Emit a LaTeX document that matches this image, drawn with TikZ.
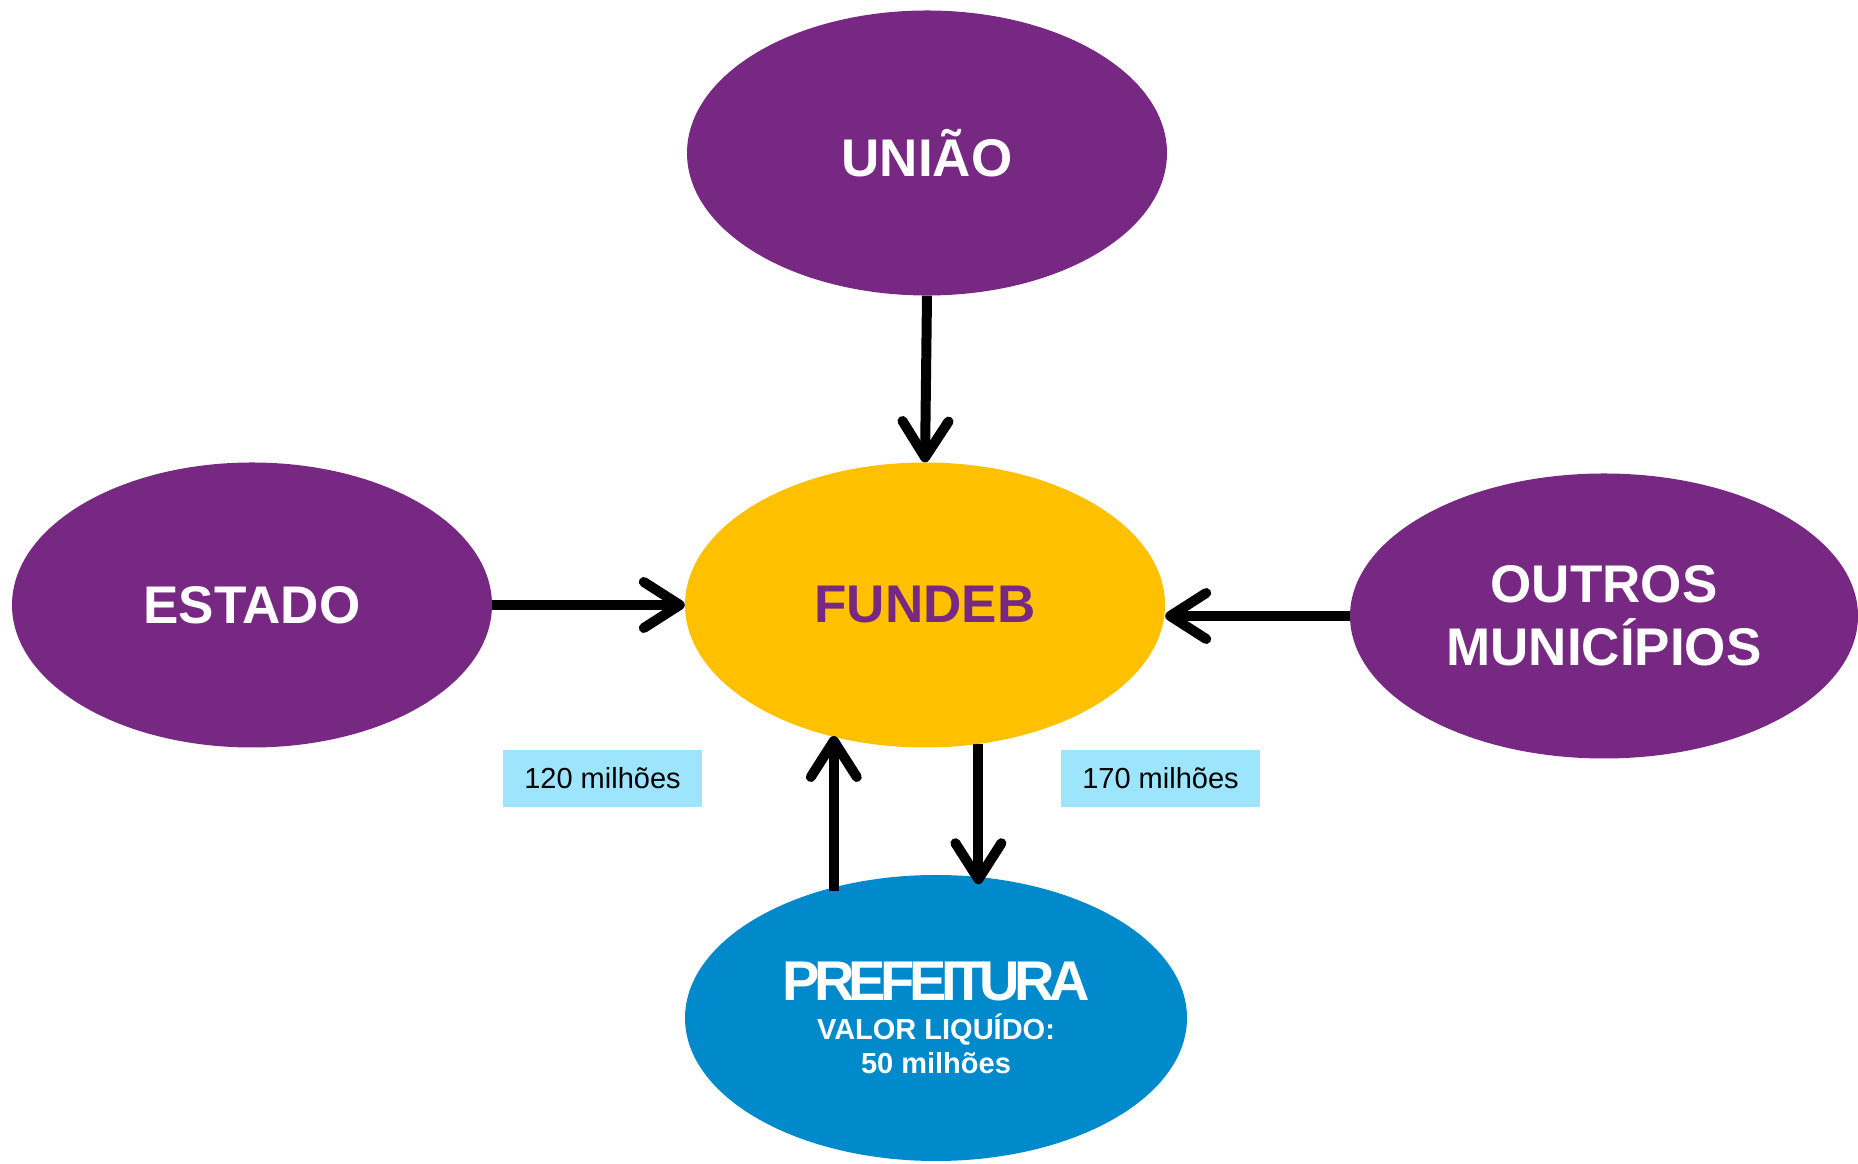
\documentclass[tikz,border=0pt]{standalone}
\usepackage{fontspec}
\setmainfont{Liberation Sans}
\newfontfamily\tightfont[LetterSpace=-10]{Liberation Sans}
\usetikzlibrary{shapes.geometric,arrows.meta,calc}
\definecolor{roxo}{HTML}{772882}
\definecolor{amarelo}{HTML}{FFC000}
\definecolor{azul}{HTML}{008ACC}
\definecolor{celeste}{HTML}{9CE5FD}
\begin{document}
\begin{tikzpicture}[x=1pt,y=1pt,
  blob/.style={ellipse, inner sep=0pt, minimum width=480pt, minimum height=285pt,
    font=\fontsize{53}{63}\selectfont\bfseries, align=center, text=white},
  label/.style={fill=celeste, inner sep=0pt, minimum width=199pt, minimum height=57pt,
    font=\fontsize{29}{34}\selectfont},
  flow/.style={line width=10pt, draw=black, -{Straight Barb[length=36pt,width=46pt,round]}}
]
\useasboundingbox (0,0) rectangle (1858,1164);
\node[blob, fill=roxo] (uniao) at (927,1011) {UNIÃO};
\node[blob, fill=roxo] (estado) at (252,559) {ESTADO};
\node[blob, fill=amarelo, text=roxo] (fundeb) at (925,559) {FUNDEB};
\node[blob, fill=roxo, minimum width=508pt] (outros) at (1604,548) {OUTROS\\MUNICÍPIOS};
\node[blob, fill=azul, minimum width=502pt, minimum height=286pt,
      font=\fontsize{29}{34}\selectfont\bfseries] (pref) at (936,146)
  {{\fontsize{56}{60}\selectfont\tightfont\bfseries PREFEITURA}\\[5pt]
   VALOR LIQUÍDO:\\
   50 milhões};
\node[label] (l120) at (602.5,385.5) {120 milhões};
\node[label] (l170) at (1160.5,385.5) {170 milhões};

\draw[flow] (uniao.south) -- (fundeb.north);
\draw[flow] (estado.east) -- (estado.east -| fundeb.west);
\draw[flow] (outros.west) -- (outros.west -| fundeb.east);
\draw[flow] ([yshift=-4pt]pref.128.7) -- (pref.128.7 |- fundeb.234.8);
\draw[flow, shorten >=-7pt] (fundeb.291.6) -- (fundeb.291.6 |- pref.72.7);
\end{tikzpicture}
\end{document}
